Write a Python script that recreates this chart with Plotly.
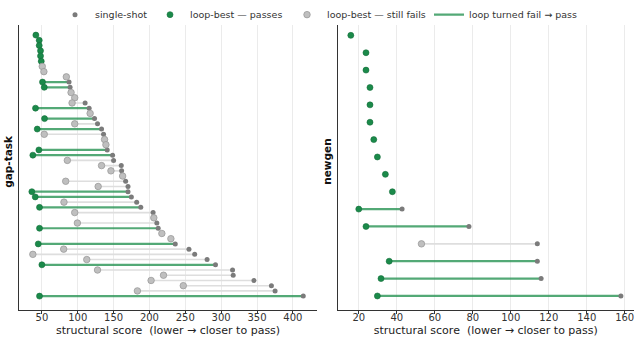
import plotly.graph_objects as go

# ---------------- data ----------------
# gap-task (rows sorted by single-shot score, top = lowest)
gap_single = [41.6, 46.3, 46.3, 48.1, 48.1, 49.1, 50.5, 52.8, 84.1, 87.9,
              89.3, 90.7, 95.8, 110.3, 115.9, 117.3, 123.4, 127.6, 133.2, 136.0,
              137.4, 139.3, 141.1, 148.6, 150.0, 160.7, 161.2, 162.6, 166.8, 170.1,
              170.1, 174.8, 182.2, 187.9, 205.1, 206.1, 210.3, 212.2, 217.3, 229.9,
              236.0, 255.1, 263.1, 280.4, 292.1, 315.9, 316.8, 345.8, 370.1, 375.2,
              414.5]
gap_loop = [41.6, 46.3, 46.3, 48.1, 48.1, 49.1, 50.5, 52.8, 84.1, 50.9,
            53.3, 90.7, 95.8, 92.1, 41.1, 117.3, 53.7, 95.8, 43.5, 53.3,
            137.4, 139.3, 45.8, 37.4, 85.5, 133.2, 146.3, 162.6, 83.2, 128.5,
            36.0, 40.7, 80.8, 46.7, 95.8, 206.1, 99.5, 46.7, 217.3, 229.9,
            44.9, 80.4, 37.4, 112.6, 50.0, 127.6, 219.6, 202.3, 247.2, 183.2,
            46.7]
gap_pass = [1, 1, 1, 1, 1, 1, 0, 0, 0, 1,
            1, 0, 0, 0, 1, 0, 1, 0, 1, 0,
            0, 0, 1, 1, 0, 0, 0, 0, 0, 0,
            1, 1, 0, 1, 0, 0, 0, 1, 0, 0,
            1, 0, 0, 0, 1, 0, 0, 0, 0, 0,
            1]

# newgen
new_single = [15.8, 23.8, 23.8, 25.9, 25.9, 25.9, 27.9, 29.8, 34.0, 37.7,
              42.8, 78.0, 114.0, 114.0, 116.0, 158.0]
new_loop = [15.8, 23.8, 23.8, 25.9, 25.9, 25.9, 27.9, 29.8, 34.0, 37.7,
            20.0, 23.8, 53.0, 36.0, 31.7, 29.8]
new_pass = [1, 1, 1, 1, 1, 1, 1, 1, 1, 1,
            1, 1, 0, 1, 1, 1]

panel_titles = ["gap-task", "newgen"]
x_title = "structural score  (lower \u2192 closer to pass)"
legend_labels = ["single-shot", "loop-best \u2014 passes",
                 "loop-best \u2014 still fails", "loop turned fail \u2192 pass"]

# ---------------- style ----------------
FONT = "DejaVu Sans"
GREEN = "#1b8a4a"
GREEN_LINE = "rgba(34,145,80,0.78)"
DARK_GRAY = "#7b7b7b"
LIGHT_FILL = "#bfbfbf"
LIGHT_EDGE = "#9a9a9a"
GRAY_LINE = "#dedede"
AX = "#333333"

fig = go.Figure()


def add_panel(single, loop, passed, xa, ya, legend):
    gx, gy, fx, fy = [], [], [], []
    for i, (s, l, p) in enumerate(zip(single, loop, passed)):
        if s == l:
            continue
        if p:
            gx += [l, s, None]
            gy += [i, i, None]
        else:
            fx += [l, s, None]
            fy += [i, i, None]
    fig.add_trace(go.Scatter(x=fx, y=fy, mode="lines", xaxis=xa, yaxis=ya,
                             line=dict(color=GRAY_LINE, width=1.6),
                             showlegend=False, hoverinfo="skip"))
    fig.add_trace(go.Scatter(x=gx, y=gy, mode="lines", xaxis=xa, yaxis=ya,
                             line=dict(color=GREEN_LINE, width=2.2),
                             name=legend_labels[3], legend="legend4",
                             showlegend=legend))
    idx = list(range(len(single)))
    fig.add_trace(go.Scatter(x=single, y=idx, mode="markers", xaxis=xa, yaxis=ya,
                             marker=dict(color=DARK_GRAY, size=5),
                             name=legend_labels[0], legend="legend",
                             showlegend=legend))
    px = [l for l, p in zip(loop, passed) if p]
    py = [i for i, p in zip(idx, passed) if p]
    fig.add_trace(go.Scatter(x=px, y=py, mode="markers", xaxis=xa, yaxis=ya,
                             marker=dict(color=GREEN, size=6,
                                         line=dict(color="#146e3a", width=0.6)),
                             name=legend_labels[1], legend="legend2",
                             showlegend=legend))
    fx2 = [l for l, p in zip(loop, passed) if not p]
    fy2 = [i for i, p in zip(idx, passed) if not p]
    fig.add_trace(go.Scatter(x=fx2, y=fy2, mode="markers", xaxis=xa, yaxis=ya,
                             marker=dict(color=LIGHT_FILL, size=6.5,
                                         line=dict(color=LIGHT_EDGE, width=0.8)),
                             name=legend_labels[2], legend="legend3",
                             showlegend=legend))


add_panel(gap_single, gap_loop, gap_pass, "x", "y", True)
add_panel(new_single, new_loop, new_pass, "x2", "y2", False)

W, H = 642, 343
y_dom = [(H - 309) / H, (H - 18.5) / H]

xcommon = dict(showgrid=True, gridcolor="#ebebeb", gridwidth=1, zeroline=False,
               showline=True, linecolor=AX, linewidth=1, ticks="outside",
               ticklen=3.5, tickcolor=AX, tickfont=dict(size=10, color="#333"),
               ticklabelstandoff=-5, automargin=False,
               title=dict(text=x_title, font=dict(size=11, color="#222"), standoff=4))
ycommon = dict(showgrid=False, zeroline=False, showline=True, linecolor=AX,
               linewidth=1, showticklabels=False, ticks="", automargin=False)


def leg(text_left_px):
    return dict(orientation="h", x=(text_left_px - 40) / W, xanchor="left",
                y=1 + 7 / H, yanchor="top", font=dict(size=9.5, color="#333"),
                bgcolor="rgba(0,0,0,0)", itemwidth=30)


fig.update_layout(
    width=W, height=H,
    margin=dict(l=0, r=0, t=0, b=0),
    paper_bgcolor="white", plot_bgcolor="white",
    font=dict(family=FONT, color="#333"),
    xaxis=dict(domain=[19.3 / W, 316.8 / W], range=[18.5, 433.4],
               tickvals=[50, 100, 150, 200, 250, 300, 350, 400], **xcommon),
    yaxis=dict(domain=y_dom, range=[52.6, -1.91], **ycommon),
    xaxis2=dict(domain=[337.5 / W, 634 / W], range=[8.8, 164.9],
                tickvals=[20, 40, 60, 80, 100, 120, 140, 160], anchor="y2", **xcommon),
    yaxis2=dict(domain=y_dom, range=[15.79, -0.59], anchor="x2", **ycommon),
    legend=leg(95),
    legend2=leg(190),
    legend3=leg(327),
    legend4=leg(469),
    showlegend=True,
    annotations=[
        dict(text="<b>" + panel_titles[0] + "</b>", xref="paper", yref="paper",
             x=8 / W, y=(H - 158) / H, textangle=-90, showarrow=False,
             font=dict(size=10.5, color="#111"), xanchor="center", yanchor="middle"),
        dict(text="<b>" + panel_titles[1] + "</b>", xref="paper", yref="paper",
             x=327 / W, y=(H - 158) / H, textangle=-90, showarrow=False,
             font=dict(size=10.5, color="#111"), xanchor="center", yanchor="middle"),
    ],
)

fig.write_html("out.html")
